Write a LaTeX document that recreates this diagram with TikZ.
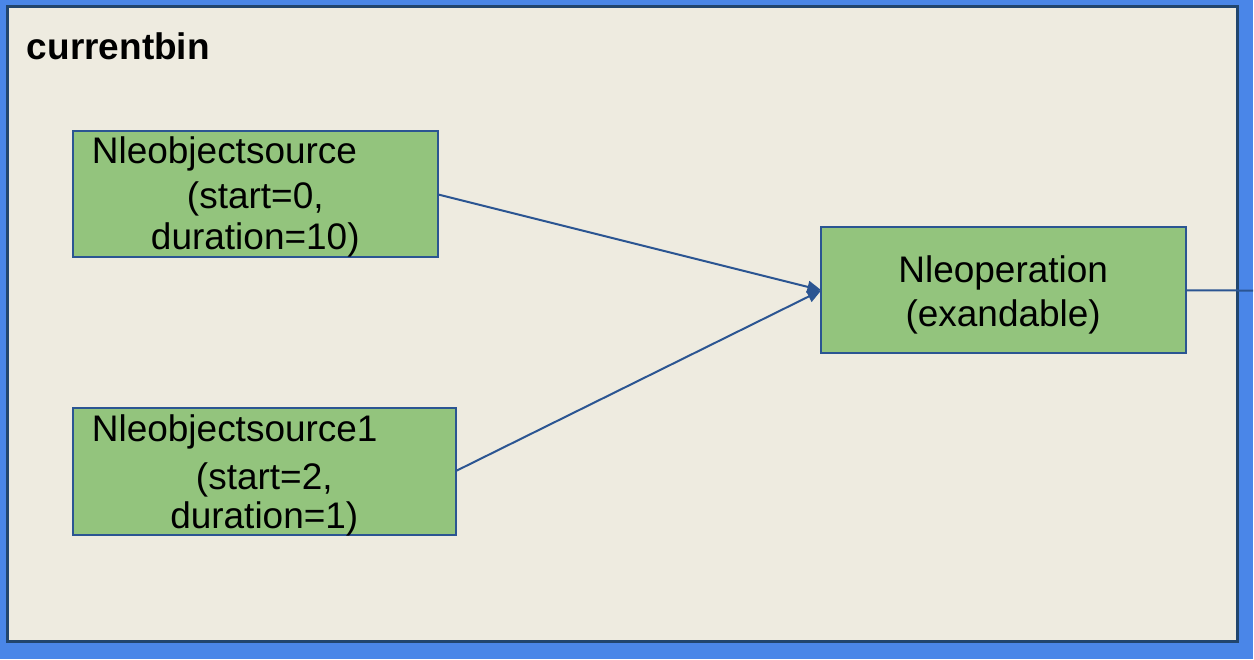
\documentclass[tikz,border=0pt]{standalone}
\usepackage{fontspec}
\setmainfont{Liberation Sans}
\usetikzlibrary{arrows.meta}
\definecolor{pageblue}{HTML}{4A86E8}
\definecolor{panelbeige}{HTML}{EEEBE0}
\definecolor{paneledge}{HTML}{21456E}
\definecolor{boxgreen}{HTML}{93C47D}
\definecolor{linkblue}{HTML}{2B5592}
\tikzset{
  elem/.style={draw=linkblue, line width=2pt, fill=boxgreen, rectangle,
    inner sep=0pt, outer sep=0pt},
  txt/.style={inner sep=0pt, outer sep=0pt, font=\fontsize{37}{44}\selectfont},
  link/.style={draw=linkblue, line width=2pt},
  arrowlink/.style={link, -{Triangle[length=14pt,width=12pt]}},
}
\begin{document}
\begin{tikzpicture}[x=1pt, y=-1pt]
  % page and bin panel
  \fill[pageblue] (0,0) rectangle (1254,660);
  \filldraw[fill=panelbeige, draw=paneledge, line width=3pt] (8,6.5) rectangle (1238,642.5);
  \node[txt, font=\fontsize{37}{44}\selectfont\bfseries, anchor=base west] (bin) at (27,60) {currentbin};

  % elements
  \node[elem, minimum width=365pt, minimum height=126pt] (src0) at (255.5,194.5) {};
  \node[elem, minimum width=383pt, minimum height=127pt] (src1) at (264.5,471.5) {};
  \node[elem, minimum width=365pt, minimum height=126pt] (op) at (1004.5,290.5) {};

  % element labels
  \node[txt, anchor=base west] (src0a) at (92,164) {Nleobjectsource};
  \node[txt, anchor=base] (src0b) at (255.5,208.5) {(start=0,};
  \node[txt, anchor=base] (src0c) at (255.5,250) {duration=10)};

  \node[txt, anchor=base west] (src1a) at (92,442) {Nleobjectsource1};
  \node[txt, anchor=base] (src1b) at (264.5,490) {(start=2,};
  \node[txt, anchor=base] (src1c) at (264.5,529) {duration=1)};

  \node[txt, anchor=base] (opa) at (1004,283) {Nleoperation};
  \node[txt, anchor=base] (opb) at (1004,327) {(exandable)};

  % links
  \coordinate (out) at (1254,290.8);
  \draw[arrowlink] (src0.east) -- (op.west);
  \draw[arrowlink] (src1.east) -- (op.west);
  \draw[link] (op.east) -- (out);
\end{tikzpicture}
\end{document}
